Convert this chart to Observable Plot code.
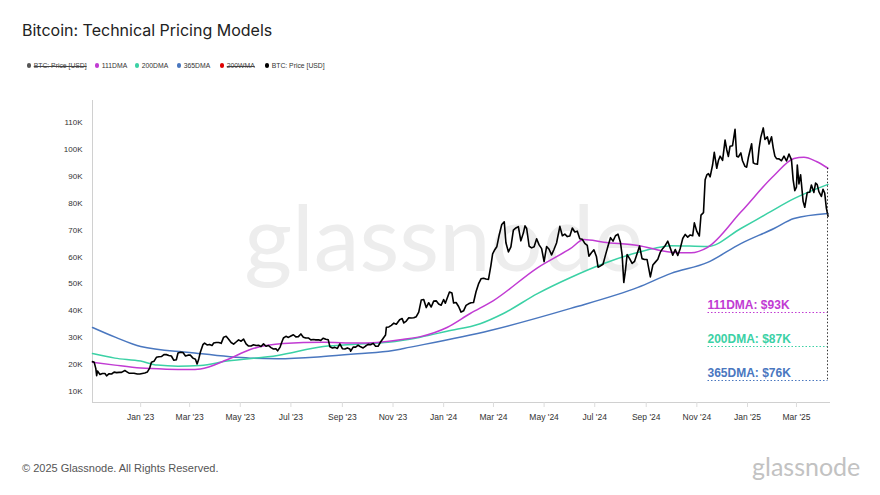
<!DOCTYPE html>
<html><head><meta charset="utf-8">
<script src="https://cdn.jsdelivr.net/npm/d3@7"></script>
<script src="https://cdn.jsdelivr.net/npm/@observablehq/plot@0.6"></script>
<style>
body{margin:0;background:#fff;}
#wrap{position:relative;width:880px;height:495px;overflow:hidden;font-family:"Liberation Sans",Arial,sans-serif;}
#title{position:absolute;left:22px;top:22px;font-family:Inter,sans-serif;font-size:16px;line-height:1;color:#222;white-space:nowrap;}
.li{position:absolute;top:62px;height:7px;font-size:6.8px;line-height:7px;color:#333;white-space:nowrap;display:flex;align-items:center;}
.li .dot{width:4.5px;height:4.5px;border-radius:50%;margin-right:2.5px;display:inline-block;flex:none;}
.li.off span.t{text-decoration:line-through;color:#444;}
#chart{position:absolute;left:0;top:90px;}
#footer{position:absolute;left:22px;top:463px;font-size:11px;line-height:1;color:#555;white-space:nowrap;}
#logo{position:absolute;left:752px;top:454px;font-family:Lato,sans-serif;font-size:25px;line-height:1;color:#c2c2c2;white-space:nowrap;}
</style></head>
<body>
<div id="wrap">
  <div id="title">Bitcoin: Technical Pricing Models</div>
  <div id="legend"></div>
  <div id="chart"></div>
  <div id="footer">© 2025 Glassnode. All Rights Reserved.</div>
  <div id="logo">glassnode</div>
</div>
<script>
// ---------- DATA ----------
const priceDates = [
"2022-11-04","2022-11-06","2022-11-08","2022-11-09","2022-11-10","2022-11-13","2022-11-16","2022-11-19","2022-11-21","2022-11-24","2022-11-27","2022-11-30",
"2022-12-03","2022-12-06","2022-12-09","2022-12-13","2022-12-15","2022-12-18","2022-12-21","2022-12-24","2022-12-28","2022-12-31",
"2023-01-03","2023-01-06","2023-01-09","2023-01-12","2023-01-14","2023-01-17","2023-01-20","2023-01-23","2023-01-26","2023-01-29",
"2023-02-01","2023-02-04","2023-02-07","2023-02-10","2023-02-13","2023-02-15","2023-02-18","2023-02-21","2023-02-24","2023-02-27",
"2023-03-02","2023-03-05","2023-03-08","2023-03-10","2023-03-12","2023-03-14","2023-03-17","2023-03-19","2023-03-22","2023-03-25","2023-03-28","2023-03-30",
"2023-04-02","2023-04-05","2023-04-08","2023-04-11","2023-04-14","2023-04-17","2023-04-20","2023-04-23","2023-04-26","2023-04-29",
"2023-05-02","2023-05-05","2023-05-08","2023-05-11","2023-05-14","2023-05-17","2023-05-20","2023-05-23","2023-05-26","2023-05-29",
"2023-06-01","2023-06-04","2023-06-07","2023-06-10","2023-06-13","2023-06-15","2023-06-18","2023-06-20","2023-06-22","2023-06-25","2023-06-28",
"2023-07-01","2023-07-04","2023-07-07","2023-07-10","2023-07-13","2023-07-16","2023-07-19","2023-07-22","2023-07-25","2023-07-28","2023-07-31",
"2023-08-03","2023-08-06","2023-08-09","2023-08-12","2023-08-15","2023-08-17","2023-08-20","2023-08-23","2023-08-26","2023-08-29",
"2023-09-01","2023-09-04","2023-09-07","2023-09-10","2023-09-11","2023-09-14","2023-09-17","2023-09-20","2023-09-23","2023-09-26","2023-09-29",
"2023-10-02","2023-10-05","2023-10-08","2023-10-11","2023-10-14","2023-10-17","2023-10-20","2023-10-23","2023-10-24","2023-10-27","2023-10-30",
"2023-11-02","2023-11-05","2023-11-09","2023-11-12","2023-11-14","2023-11-17","2023-11-20","2023-11-23","2023-11-26","2023-11-29",
"2023-12-02","2023-12-05","2023-12-08","2023-12-11","2023-12-14","2023-12-17","2023-12-20","2023-12-23","2023-12-26","2023-12-29",
"2024-01-01","2024-01-03","2024-01-08","2024-01-11","2024-01-13","2024-01-16","2024-01-19","2024-01-22","2024-01-25","2024-01-28","2024-01-31",
"2024-02-03","2024-02-06","2024-02-09","2024-02-12","2024-02-15","2024-02-18","2024-02-21","2024-02-24","2024-02-27","2024-02-29",
"2024-03-02","2024-03-05","2024-03-08","2024-03-11","2024-03-14","2024-03-16","2024-03-19","2024-03-22","2024-03-25","2024-03-28","2024-03-31",
"2024-04-03","2024-04-06","2024-04-08","2024-04-10","2024-04-13","2024-04-16","2024-04-19","2024-04-22","2024-04-25","2024-04-28",
"2024-05-01","2024-05-04","2024-05-07","2024-05-10","2024-05-13","2024-05-16","2024-05-20","2024-05-23","2024-05-26","2024-05-29",
"2024-06-01","2024-06-04","2024-06-07","2024-06-10","2024-06-13","2024-06-16","2024-06-19","2024-06-22","2024-06-24","2024-06-27","2024-06-30",
"2024-07-03","2024-07-05","2024-07-08","2024-07-11","2024-07-14","2024-07-17","2024-07-20","2024-07-23","2024-07-26","2024-07-29",
"2024-08-01","2024-08-03","2024-08-05","2024-08-07","2024-08-09","2024-08-12","2024-08-15","2024-08-18","2024-08-21","2024-08-24","2024-08-27","2024-08-30",
"2024-09-02","2024-09-06","2024-09-09","2024-09-12","2024-09-15","2024-09-18","2024-09-21","2024-09-24","2024-09-27","2024-09-30",
"2024-10-03","2024-10-06","2024-10-09","2024-10-12","2024-10-15","2024-10-18","2024-10-21","2024-10-24","2024-10-27","2024-10-29",
"2024-11-01","2024-11-04","2024-11-06","2024-11-09","2024-11-11","2024-11-13","2024-11-15","2024-11-17","2024-11-20","2024-11-22","2024-11-25","2024-11-27","2024-11-29",
"2024-12-02","2024-12-05","2024-12-07","2024-12-09","2024-12-11","2024-12-14","2024-12-17","2024-12-19","2024-12-21","2024-12-24","2024-12-26","2024-12-29","2024-12-31",
"2025-01-02","2025-01-06","2025-01-08","2025-01-10","2025-01-13","2025-01-15","2025-01-17","2025-01-20","2025-01-22","2025-01-25","2025-01-27","2025-01-30",
"2025-02-01","2025-02-03","2025-02-05","2025-02-08","2025-02-11","2025-02-14","2025-02-17","2025-02-20","2025-02-23","2025-02-25","2025-02-27",
"2025-03-01","2025-03-02","2025-03-04","2025-03-06","2025-03-09","2025-03-11","2025-03-14","2025-03-17","2025-03-19","2025-03-22","2025-03-24","2025-03-26","2025-03-28","2025-03-31",
"2025-04-02","2025-04-04","2025-04-06","2025-04-08"
];
const priceValues = [
21.1,20.9,18.5,15.9,17.6,16.3,16.7,16.7,15.8,16.6,16.5,17.2,
17.0,17.1,17.1,17.8,17.4,16.8,16.8,16.8,16.5,16.5,
16.7,16.9,17.2,18.8,20.9,21.2,22.7,22.9,23.0,23.7,
23.7,23.4,23.2,21.6,21.8,24.3,24.6,24.5,23.2,23.5,
23.5,22.4,22.0,20.2,22.1,24.7,27.4,28.0,27.3,27.5,27.1,28.0,
28.2,28.2,27.9,30.2,30.5,29.4,28.2,27.6,28.4,29.2,
28.7,29.5,27.7,26.9,26.9,27.4,27.1,27.2,26.7,27.7,
26.8,27.1,26.3,25.8,25.9,25.1,26.5,28.3,29.9,30.5,30.1,
30.6,31.1,30.3,30.4,31.4,30.2,29.9,29.9,29.2,29.3,29.2,
29.2,29.0,29.8,29.4,29.2,26.6,26.2,26.4,26.0,27.7,
25.9,25.8,26.2,25.8,25.0,26.5,26.5,27.2,26.6,26.2,26.9,
27.5,27.4,27.9,26.8,26.8,28.4,29.7,31.0,33.9,34.0,34.6,
35.4,35.0,36.7,37.1,35.5,36.2,37.4,37.3,37.4,37.8,
39.5,44.0,44.2,41.2,43.0,41.4,43.6,43.7,42.5,42.1,
44.2,42.8,47.0,46.6,42.9,43.1,41.6,39.5,40.0,42.0,42.6,
43.0,43.1,47.1,50.0,51.9,52.1,51.8,51.7,57.0,61.2,
62.4,63.8,68.3,72.1,73.1,65.3,61.9,63.8,70.0,70.8,71.3,
66.0,68.9,71.6,70.6,64.0,63.4,63.8,66.8,64.5,63.1,
58.3,63.9,62.9,60.8,62.9,65.2,71.4,67.9,68.5,67.6,
67.8,70.8,69.3,69.6,66.8,66.6,65.1,64.3,60.3,61.6,62.7,
60.2,56.2,56.7,57.3,60.8,64.1,67.2,65.9,67.9,68.5,
65.4,60.7,50.5,55.0,60.9,59.4,57.6,58.4,61.2,64.1,59.4,59.1,
59.1,52.6,57.0,58.1,59.2,61.8,63.2,64.3,65.9,63.3,
60.7,62.8,60.6,63.2,66.9,68.4,67.4,68.2,67.9,72.7,
69.5,67.8,75.6,76.5,88.7,90.5,91.0,89.8,94.3,98.9,93.0,95.9,97.5,
95.9,103.5,99.9,97.4,101.2,101.4,107.5,97.5,97.2,98.7,95.8,93.7,93.4,
96.9,102.1,95.0,94.7,94.5,100.5,104.5,108.0,103.7,104.7,102.0,104.7,
100.6,97.5,96.6,96.5,95.8,97.5,95.7,98.3,96.1,88.7,84.7,
86.0,94.2,87.2,90.6,80.7,78.5,84.0,84.1,86.8,84.0,87.5,86.9,84.3,82.5,
85.2,83.8,78.2,75.2
];

const dma111Dates = ["2022-11-04","2022-12-01","2023-01-01","2023-02-01","2023-03-01","2023-03-14","2023-04-15","2023-05-13","2023-06-22","2023-08-09","2023-09-19","2023-10-13","2023-11-14","2023-12-04","2024-01-05","2024-02-02","2024-03-01","2024-04-23","2024-06-02","2024-06-18","2024-07-12","2024-08-22","2024-10-01","2024-10-25","2024-11-14","2024-12-24","2025-02-02","2025-02-26","2025-03-10","2025-03-25","2025-04-08"];
const dma111Values = [20.9,19.8,18.7,18.3,18.2,18.4,21.8,25.6,27.8,28.3,28.0,28.2,29.4,30.4,33.8,39.0,43.8,56.0,63.2,66.5,65.5,64.3,61.8,61.6,63.6,76.7,90.3,96.6,97.1,95.5,93.0];

const dma200Dates = ["2022-11-04","2022-12-01","2023-01-01","2023-01-21","2023-02-15","2023-03-14","2023-04-15","2023-06-15","2023-08-09","2023-09-19","2023-10-26","2023-12-04","2024-01-05","2024-02-14","2024-03-13","2024-04-23","2024-06-02","2024-07-12","2024-08-17","2024-09-10","2024-10-01","2024-11-14","2024-12-24","2025-01-25","2025-02-26","2025-04-08"];
const dma200Values = [24.1,22.4,21.3,19.8,19.4,19.7,21.3,23.4,26.7,27.6,28.3,30.2,32.4,35.2,39.0,46.4,52.4,57.6,61.3,63.2,64.2,63.9,70.6,76.2,81.7,87.0];

const dma365Dates = ["2022-11-04","2022-12-02","2023-01-01","2023-03-01","2023-05-13","2023-06-15","2023-08-09","2023-09-19","2023-11-01","2023-11-14","2024-02-26","2024-06-02","2024-08-22","2024-10-01","2024-11-14","2024-12-24","2025-02-02","2025-02-26","2025-04-08"];
const dma365Values = [33.8,30.1,26.7,24.5,22.4,22.2,23.0,24.0,25.2,26.0,32.7,40.9,48.7,53.9,58.0,65.0,70.6,74.3,76.2];

const yTickValues = [10000,20000,30000,40000,50000,60000,70000,80000,90000,100000,110000];
const xDomain = ["2022-11-04","2025-04-11"];
const yDomain = [5900,118200];

const legendItems = [
  {label:"BTC: Price [USD]", color:"#555", off:true},
  {label:"111DMA", color:"#c13bd3", off:false},
  {label:"200DMA", color:"#3bd1a5", off:false},
  {label:"365DMA", color:"#4a77bf", off:false},
  {label:"200WMA", color:"#e00000", off:true},
  {label:"BTC: Price [USD]", color:"#000", off:false}
];
const legendDotX = [29,97,137,179,222,267];

// ---------- BUILD ----------
const toRows = (ds, vs) => ds.map((d,i)=>({date:new Date(d+"T00:00:00Z"), value:vs[i]*1000}));
const price = toRows(priceDates, priceValues);
const ma111 = toRows(dma111Dates, dma111Values);
const ma200 = toRows(dma200Dates, dma200Values);
const ma365 = toRows(dma365Dates, dma365Values);
const C111 = legendItems[1].color, C200 = legendItems[2].color, C365 = legendItems[3].color;

const leg = document.getElementById("legend");
legendItems.forEach((it,i)=>{
  const d = document.createElement("div");
  d.className = "li" + (it.off ? " off" : "");
  d.style.left = (legendDotX[i] - 2.25) + "px";
  d.innerHTML = `<span class="dot" style="background:${it.color}"></span><span class="t">${it.label}</span>`;
  leg.appendChild(d);
});

const x0 = new Date(xDomain[0]+"T00:00:00Z"), x1 = new Date(xDomain[1]+"T00:00:00Z");
const plot = Plot.plot({
  width: 880, height: 345,
  marginLeft: 92, marginRight: 50, marginTop: 10, marginBottom: 33,
  style: {fontFamily: "'Liberation Sans', Arial, sans-serif", fontSize: "8.5px", background: "transparent", overflow: "visible"},
  x: {type: "utc", domain: [x0, x1]},
  y: {domain: yDomain},
  marks: [
    Plot.text(["glassnode"], {frameAnchor: "middle", text: d => d, fontSize: 92, fontFamily: "Lato", fill: "#ededed", dx: -18, dy: -10}),
    Plot.ruleY([yDomain[0]], {stroke: "#d0d0d0", strokeWidth: 1}),
    Plot.ruleX([x0], {stroke: "#d0d0d0", strokeWidth: 1}),
    Plot.axisX({ticks: d3.utcMonth.every(2), tickFormat: d3.utcFormat("%b '%y"), tickSize: 5, tickPadding: 6, stroke: "#dcdcdc", fill: "#333", label: null}),
    Plot.axisY({ticks: yTickValues, tickFormat: d => (d/1000) + "K", tickSize: 0, tickPadding: 10, fill: "#333", fontSize: 8, label: null}),
    Plot.line(ma365, {x: "date", y: "value", stroke: C365, strokeWidth: 1.5, curve: "monotone-x"}),
    Plot.line(ma200, {x: "date", y: "value", stroke: C200, strokeWidth: 1.5, curve: "monotone-x"}),
    Plot.line(ma111, {x: "date", y: "value", stroke: C111, strokeWidth: 1.5, curve: "monotone-x"}),
    Plot.line(price, {x: "date", y: "value", stroke: "#000", strokeWidth: 1.6, strokeLinejoin: "round"})
  ]
});
document.getElementById("chart").appendChild(plot);

// ---------- ANNOTATIONS ----------
const xs = plot.scale("x"), ys = plot.scale("y");
const lastDate = price[price.length-1].date;
const xe = xs.apply(lastDate);
const svg = d3.select(plot);
const g = svg.append("g").attr("text-anchor", "start");
const labels = [
  {name:"111DMA", color:C111, last:ma111[ma111.length-1].value},
  {name:"200DMA", color:C200, last:ma200[ma200.length-1].value},
  {name:"365DMA", color:C365, last:ma365[ma365.length-1].value}
];
const baseY = 222.5, stepY = 34;
labels.forEach((l,i)=>{
  const ly = baseY + i*stepY;
  g.append("text").attr("x", xe-120).attr("y", ly-4).attr("fill", l.color).attr("text-anchor","start")
    .attr("font-family","'Liberation Sans', Arial, sans-serif").attr("font-weight","bold").attr("font-size",12)
    .text(`${l.name}: $${Math.round(l.last/1000)}K`);
  g.append("line").attr("x1", xe-120).attr("x2", xe).attr("y1", ly).attr("y2", ly)
    .attr("stroke", l.color).attr("stroke-width",1).attr("stroke-dasharray","1.5,2");
});
g.append("line").attr("x1", xe).attr("x2", xe)
  .attr("y1", ys.apply(ma111[ma111.length-1].value)).attr("y2", baseY + 2*stepY)
  .attr("stroke","#333").attr("stroke-width",1).attr("stroke-dasharray","1.5,2");
</script>
</body></html>
